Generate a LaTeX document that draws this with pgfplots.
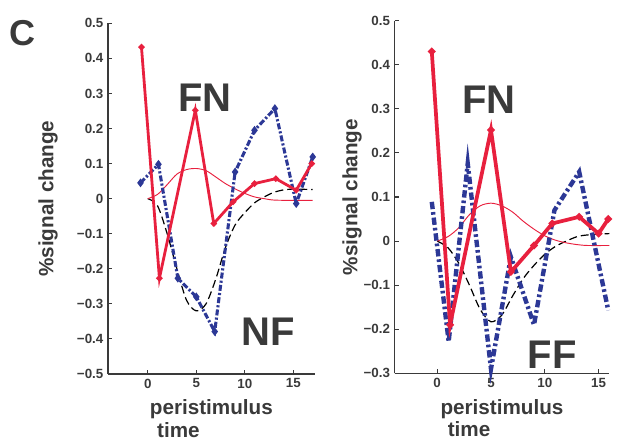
\documentclass[border=0pt]{standalone}
\usepackage{fontspec}
\setmainfont{Liberation Sans}
\usepackage{pgfplots}
\pgfplotsset{compat=1.18}

\definecolor{fnred}{RGB}{232,32,62}
\definecolor{nfblue}{RGB}{44,56,150}
\definecolor{ink}{RGB}{58,58,58}

\tikzset{big/.style={font=\bfseries\fontsize{30}{30}\selectfont, text=ink}}

\pgfplotsset{
  panel/.style={
    scale only axis, clip=false,
    axis lines=left,
    axis line style={-, line width=1.1pt, draw=ink},
    tick style={draw=ink, line width=0.8pt},
    major tick length=3pt, tick align=inside,
    ticklabel style={font=\bfseries\fontsize{10}{12}\selectfont, text=ink},
    label style={font=\bfseries\fontsize{15.5}{17}\selectfont, text=ink},
    xtick={0,5,10,15}, xticklabels={0,5,10,15},
    xlabel={peristimulus\\\hspace*{0.35em}time},
    xlabel style={align=left, yshift=-2pt},
    ylabel={\%signal change},
  },
  fn/.style={color=fnred, line width=2.1pt, mark=*, mark size=1.1pt},
  hrfred/.style={color=fnred, line width=0.7pt, smooth},
  hrfblack/.style={color=black, line width=0.9pt, dash pattern=on 6pt off 3pt, smooth},
}

\begin{document}
\begin{tikzpicture}
\path[use as bounding box] (-81pt,-50.25pt) rectangle (384.75pt,280.5pt);

% left panel: FN / NF
\begin{axis}[panel, at={(0pt,0pt)}, anchor=south west,
  width=155pt, height=263pt,
  xmin=-4.1, xmax=17.2, ymin=-0.5, ymax=0.5,
  ytick={-0.5,-0.4,-0.3,-0.2,-0.1,0,0.1,0.2,0.3,0.4,0.5},
  yticklabels={−0.5,−0.4,−0.3,−0.2,−0.1,0,0.1,0.2,0.3,0.4,0.5},
  ylabel style={at={(axis description cs:0,0.5)}, anchor=center, yshift=45pt},
]
\addplot[hrfblack] coordinates {
  (0,0) (1,-0.02) (2,-0.1) (3,-0.2) (4,-0.29) (5,-0.32) (6,-0.3) (7,-0.23)
  (8,-0.14) (9,-0.075) (10,-0.04) (11,-0.012) (12,0.005) (13,0.018)
  (14,0.025) (15,0.027) (17,0.026)
};
\addplot[hrfred] coordinates {
  (0,0) (1,0.012) (2,0.04) (3,0.07) (4,0.083) (5,0.086) (6,0.08) (7,0.062)
  (8,0.043) (9,0.028) (10,0.015) (11,0.005) (12,0) (13,-0.004) (15,-0.005) (17,-0.005)
};
\addplot[color=nfblue, line width=2.3pt, dash pattern=on 4.5pt off 1.6pt on 1.6pt off 1.6pt,
  mark=diamond*, mark size=1.4pt, mark options={solid}] coordinates {
  (-0.75,0.045) (1.1,0.098) (3.1,-0.227) (5,-0.28) (6.9,-0.379) (9,0.076)
  (11,0.195) (13.1,0.257) (15.3,-0.014) (17,0.119)
};
\addplot[fn] coordinates {
  (-0.65,0.432) (1.2,-0.227) (4.9,0.252) (6.8,-0.071) (8.8,-0.009)
  (11,0.043) (13.2,0.057) (15.3,0.024) (16.9,0.1)
};
\node[big] at (axis cs:5.9,0.289) {FN};
\node[big] at (axis cs:12.4,-0.38) {NF};
\node[font=\bfseries\fontsize{27}{27}\selectfont, text=ink] at (rel axis cs:-0.415,0.971) {C};
\end{axis}

% right panel: FN / FF
\begin{axis}[panel, at={(215pt,0.5pt)}, anchor=south west,
  width=161pt, height=264.5pt,
  xmin=-3.95, xmax=16, ymin=-0.3, ymax=0.5,
  ytick={-0.3,-0.2,-0.1,0,0.1,0.2,0.3,0.4,0.5},
  yticklabels={−0.3,−0.2,−0.1,0,0.1,0.2,0.3,0.4,0.5},
  ylabel style={at={(axis description cs:0,0.5)}, anchor=center, yshift=32pt},
]
\addplot[hrfblack] coordinates {
  (0,0) (1,-0.015) (2,-0.05) (3,-0.1) (4,-0.155) (5,-0.183) (6,-0.168)
  (7,-0.125) (8,-0.085) (9,-0.055) (10,-0.03) (11,-0.012) (12,0) (13,0.01)
  (14,0.014) (16,0.017)
};
\addplot[hrfred] coordinates {
  (0,0) (1,0.01) (2,0.03) (3,0.06) (4,0.08) (5,0.086) (6,0.08) (7,0.066)
  (8,0.045) (9,0.027) (10,0.012) (11,0.002) (12,-0.004) (13,-0.008) (14,-0.01) (16,-0.01)
};
\addplot[color=nfblue, line width=3.3pt, dash pattern=on 5.5pt off 2.2pt on 2pt off 2.2pt]
  coordinates {
  (-0.5,0.089) (1.07,-0.228) (2.84,0.176) (5,-0.29) (6.85,-0.036)
  (9,-0.19) (10.9,0.07) (13.2,0.157) (15.9,-0.157)
};
\addplot[fn, line width=2.8pt] coordinates {
  (-0.5,0.43) (1.2,-0.19) (5,0.252) (6.85,-0.07) (9,-0.01)
  (10.7,0.04) (13.2,0.055) (15,0.017) (15.9,0.05)
};
\node[big] at (axis cs:4.8,0.32) {FN};
\node[big, anchor=south] at (axis cs:10.7,-0.3) {FF};
\end{axis}
\end{tikzpicture}
\end{document}
